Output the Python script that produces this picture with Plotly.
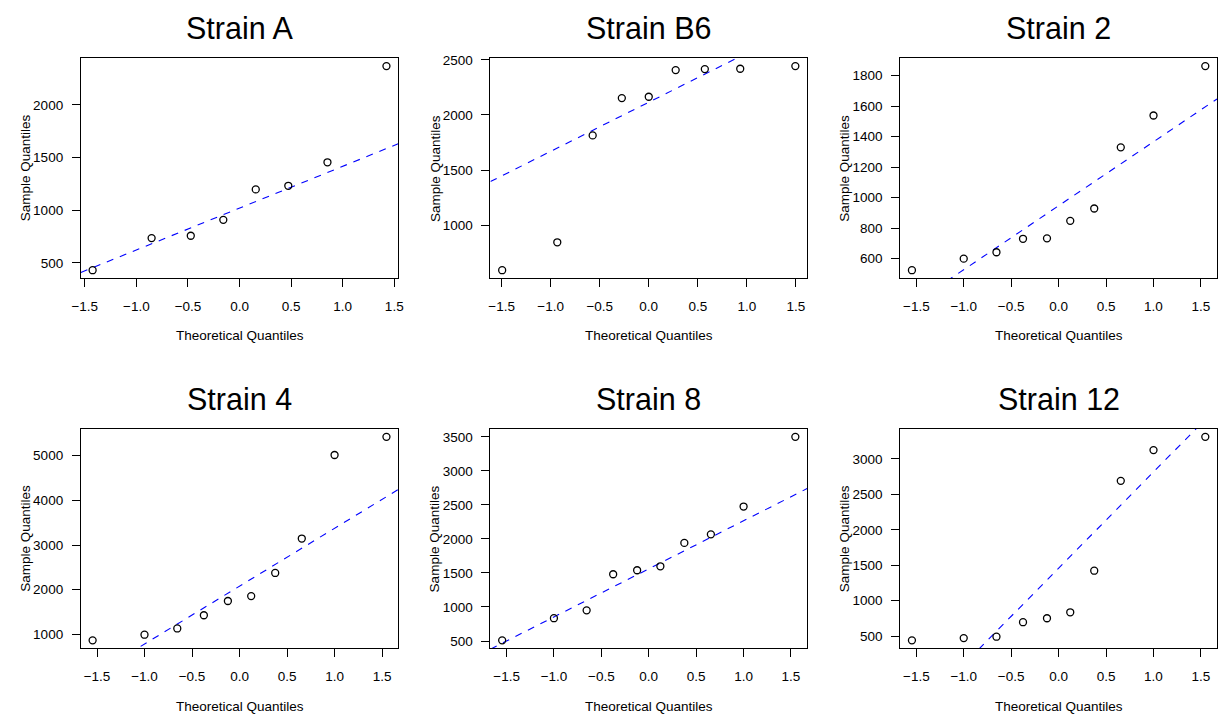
import numpy as np
import plotly.graph_objects as go

# ---- data ----
titles = ["Strain A", "Strain B6", "Strain 2", "Strain 4", "Strain 8", "Strain 12"]

theo_A = [-1.4243, -0.8524, -0.4727, -0.1573, 0.1573, 0.4727, 0.8524, 1.4243]
theo_B6 = [-1.4942, -0.9323, -0.5716, -0.2744, 0.0, 0.2744, 0.5716, 0.9323, 1.4942]
theo_10 = [-1.5466, -1.0005, -0.6554, -0.3755, -0.1226, 0.1226, 0.3755, 0.6554, 1.0005, 1.5466]

sample_A = [430, 735, 757, 908, 1197, 1231, 1454, 2367]
sample_B6 = [593, 846, 1815, 2153, 2165, 2407, 2416, 2419, 2443]
sample_2 = [524, 600, 642, 730, 733, 848, 929, 1330, 1539, 1863]
sample_4 = [867, 993, 1133, 1428, 1747, 1858, 2375, 3145, 5015, 5421]
sample_8 = [510, 835, 951, 1481, 1540, 1598, 1942, 2068, 2476, 3500]
sample_12 = [440, 472, 491, 696, 752, 836, 1423, 2691, 3125, 3312]

theo_sets = [theo_A, theo_B6, theo_10, theo_10, theo_10, theo_10]
sample_sets = [sample_A, sample_B6, sample_2, sample_4, sample_8, sample_12]
y_dticks = [500, 500, 200, 1000, 500, 500]

# ---- layout geometry (pixels) ----
W, H = 1225, 717
col_px = [(72.7, 393.7), (487.0, 807.3), (901.5, 1222.0)]
row_px = [(53.3, 275.3), (426.7, 648.0)]
FONT = "Liberation Sans, Arial, Helvetica, sans-serif"
small = 13.5

fig = go.Figure()
annotations = []
Q25 = -0.6744898

for i in range(6):
    r, c = divmod(i, 3)
    x = np.array(theo_sets[i], dtype=float)
    y = np.array(sample_sets[i], dtype=float)
    xs = "x" if i == 0 else f"x{i+1}"
    ys = "y" if i == 0 else f"y{i+1}"
    xr = [x.min() - 0.04 * (x.max() - x.min()), x.max() + 0.04 * (x.max() - x.min())]
    yr = [y.min() - 0.04 * (y.max() - y.min()), y.max() + 0.04 * (y.max() - y.min())]

    # qqline through first and third quartiles
    q1, q3 = np.percentile(y, [25, 75])
    slope = (q3 - q1) / (-2 * Q25)
    icpt = q1 - slope * Q25
    lx = np.array(xr)
    fig.add_trace(go.Scatter(x=lx, y=icpt + slope * lx, mode="lines",
                             line=dict(color="#0000FF", width=1.1, dash="7px,7px"),
                             xaxis=xs, yaxis=ys, showlegend=False, hoverinfo="skip"))
    fig.add_trace(go.Scatter(x=x, y=y, mode="markers",
                             marker=dict(symbol="circle-open", size=7, color="black",
                                         line=dict(width=1.3, color="black")),
                             xaxis=xs, yaxis=ys, showlegend=False, cliponaxis=False))

    x0, x1 = col_px[c]
    y0, y1 = row_px[r]
    xd = [x0 / W, x1 / W]
    yd = [1 - y1 / H, 1 - y0 / H]
    axis_common = dict(showline=True, mirror=True, linecolor="black", linewidth=1,
                       ticks="outside", ticklen=8, tickwidth=1, tickcolor="black",
                       showgrid=False, zeroline=False,
                       tickfont=dict(family=FONT, size=small, color="black"))
    fig.layout[("xaxis" if i == 0 else f"xaxis{i+1}")] = dict(
        domain=xd, range=xr, anchor=ys, tick0=0, dtick=0.5, tickformat=".1f",
        ticklabelstandoff=7, **axis_common)
    fig.layout[("yaxis" if i == 0 else f"yaxis{i+1}")] = dict(
        domain=yd, range=yr, anchor=xs, tick0=0, dtick=y_dticks[i],
        ticklabelstandoff=6, **axis_common)

    cx = (x0 + x1) / 2 / W
    cy = (y0 + y1) / 2
    annotations.append(dict(text=titles[i], x=cx, y=1 - (y0 - 30) / H, xref="paper", yref="paper",
                            xanchor="center", yanchor="middle", showarrow=False,
                            font=dict(family=FONT, size=30.5, color="black")))
    annotations.append(dict(text="Theoretical Quantiles", x=cx, y=1 - (y1 + 58) / H,
                            xref="paper", yref="paper", xanchor="center", yanchor="middle",
                            showarrow=False, font=dict(family=FONT, size=small, color="black")))
    annotations.append(dict(text="Sample Quantiles", x=(x0 - 56.3) / W, y=1 - cy / H,
                            xref="paper", yref="paper", xanchor="center", yanchor="middle",
                            textangle=-90, showarrow=False,
                            font=dict(family=FONT, size=small, color="black")))

fig.update_layout(width=W, height=H, margin=dict(l=0, r=0, t=0, b=0),
                  paper_bgcolor="white", plot_bgcolor="white",
                  annotations=annotations, showlegend=False)

fig.write_html("out.html",
               config={"displayModeBar": False},
               post_script="document.body.style.margin='0';document.body.style.padding='0';"
                           "document.body.style.overflow='hidden';")
